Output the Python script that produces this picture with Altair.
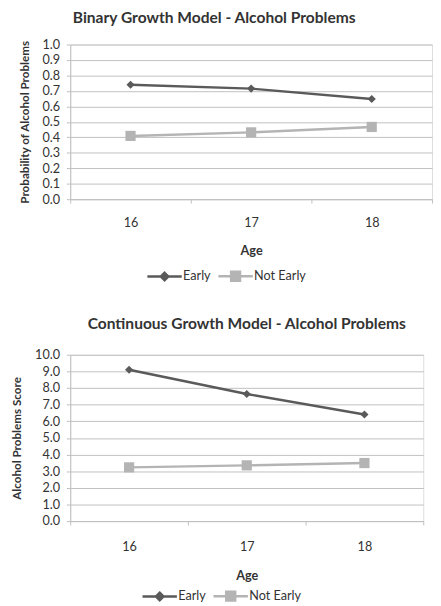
import altair as alt
import pandas as pd

ages = ["16", "17", "18"]
groups = ["Early", "Not Early"]
binary_early = [0.74, 0.715, 0.648]
binary_not_early = [0.409, 0.432, 0.467]
cont_early = [9.1, 7.64, 6.41]
cont_not_early = [3.23, 3.35, 3.49]

colors = ["#5a5a5a", "#b4b4b4"]
FONT = "Lato"
TEXT = "#333333"
GRID = "#bfbfbf"

# legend symbol paths: line + marker
legend_shapes = [
    "M-1,0H1M0,-0.22L0.22,0L0,0.22L-0.22,0Z",
    "M-1,0H1M-0.26,-0.26H0.26V0.26H-0.26Z",
]


def make_df(early, not_early):
    rows = []
    for a, v in zip(ages, early):
        rows.append({"Age": a, "Group": "Early", "Value": v})
    for a, v in zip(ages, not_early):
        rows.append({"Age": a, "Group": "Not Early", "Value": v})
    return pd.DataFrame(rows)


def panel(df, title, ytitle, ymax, ystep, w, h, title_off, title_dx, lab_pad, t_pad, leg_x, leg_y):
    xenc = alt.X(
        "Age:O",
        scale=alt.Scale(type="band", paddingInner=0, paddingOuter=0),
        axis=alt.Axis(
            title="Age", labelAngle=0, tickBand="extent", grid=False,
            domainColor=GRID, tickColor=GRID, tickSize=4,
            labelPadding=lab_pad, titlePadding=t_pad,
            labelFont=FONT, labelFontSize=13, labelColor=TEXT,
            titleFont=FONT, titleFontSize=13, titleFontWeight="bold", titleColor=TEXT,
        ),
    )
    yenc = alt.Y("Value:Q", scale=alt.Scale(domain=[0, ymax], nice=False),
                 axis=alt.Axis(
                     title=ytitle, format=".1f", values=[round(i * ystep, 1) for i in range(11)],
                     grid=True, gridColor=GRID, domainColor=GRID, tickColor=GRID, tickSize=4,
                     labelFont=FONT, labelFontSize=13, labelColor=TEXT, labelPadding=7,
                     titleFont=FONT, titleFontSize=12, titleFontWeight="bold", titleColor=TEXT,
                     titlePadding=11,
                 ))
    color_scale = alt.Scale(domain=groups, range=colors)
    legend = alt.Legend(
        title=None, orient="none", legendX=leg_x, legendY=leg_y, direction="horizontal",
        labelFont=FONT, labelFontSize=13, labelColor=TEXT,
        symbolSize=1250, symbolStrokeWidth=2.5, symbolOpacity=1,
        columnPadding=2, labelOffset=0,
    )
    base = alt.Chart(df)
    lines = base.mark_line(strokeWidth=2.5).encode(
        x=xenc, y=yenc,
        color=alt.Color("Group:N", scale=color_scale, legend=legend),
    )
    pts_early = base.transform_filter(alt.datum.Group == "Early").mark_point(
        shape="diamond", filled=True, size=70, opacity=1
    ).encode(x=xenc, y=yenc, color=alt.Color("Group:N", scale=color_scale, legend=legend))
    pts_not = base.transform_filter(alt.datum.Group == "Not Early").mark_point(
        shape="square", filled=True, size=110, opacity=1
    ).encode(x=xenc, y=yenc, color=alt.Color("Group:N", scale=color_scale, legend=legend))
    leg_layer = base.transform_filter("datum.Value < -1").mark_point(filled=True).encode(
        x=xenc, y=yenc,
        color=alt.Color("Group:N", scale=color_scale, legend=legend),
        shape=alt.Shape("Group:N", scale=alt.Scale(domain=groups, range=legend_shapes), legend=legend),
    )
    return alt.layer(lines, pts_early, pts_not, leg_layer).properties(
        width=w, height=h,
        title=alt.TitleParams(title, font=FONT, fontSize=16, fontWeight="bold", color=TEXT,
                              offset=title_off, dx=title_dx),
    ).resolve_scale(color="shared", shape="shared")


top = panel(make_df(binary_early, binary_not_early),
            "Binary Growth Model - Alcohol Problems",
            "Probability of Alcohol Problems", 1.0, 0.1, 372, 159,
            title_off=13, title_dx=-38, lab_pad=14, t_pad=16, leg_x=78, leg_y=219)
bottom = panel(make_df(cont_early, cont_not_early),
               "Continuous Growth Model - Alcohol Problems",
               "Alcohol Problems Score", 10.0, 1.0, 363, 171,
               title_off=18, title_dx=0, lab_pad=16, t_pad=17, leg_x=73, leg_y=229)

chart = alt.concat(top, bottom, columns=1, spacing=29).properties(
    align="none", padding={"left": 2, "top": -7, "right": 0, "bottom": 0}
).resolve_scale(color="independent", shape="independent", x="independent", y="independent"
).configure_view(stroke=None).configure(background="white")

chart.save("out.html", embed_options={"renderer": "svg", "actions": False})
